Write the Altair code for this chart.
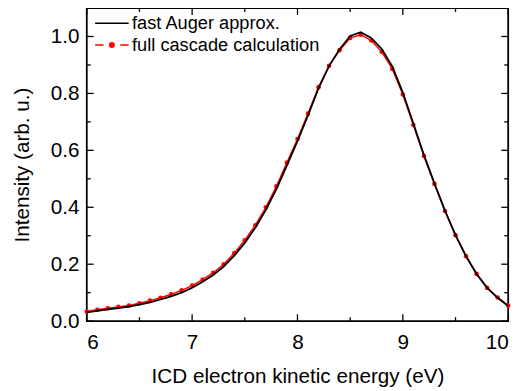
import altair as alt
import pandas as pd

energy = [6.0, 6.1, 6.2, 6.3, 6.4, 6.5, 6.6, 6.7, 6.8, 6.9,
          7.0, 7.1, 7.2, 7.3, 7.4, 7.5, 7.6, 7.7, 7.8, 7.9,
          8.0, 8.1, 8.2, 8.3, 8.4, 8.5, 8.6, 8.7, 8.8, 8.9,
          9.0, 9.1, 9.2, 9.3, 9.4, 9.5, 9.6, 9.7, 9.8, 9.9, 10.0]

fast_auger = [0.031, 0.036, 0.041, 0.046, 0.051, 0.058, 0.066, 0.076, 0.087, 0.100,
              0.117, 0.138, 0.162, 0.192, 0.230, 0.275, 0.328, 0.391, 0.464, 0.547,
              0.632, 0.723, 0.818, 0.897, 0.955, 1.002, 1.015, 0.995, 0.956, 0.895,
              0.803, 0.694, 0.584, 0.484, 0.388, 0.302, 0.228, 0.166, 0.117, 0.082, 0.053]

full_cascade = [0.034, 0.040, 0.045, 0.050, 0.055, 0.063, 0.072, 0.082, 0.094, 0.108,
                0.125, 0.146, 0.170, 0.200, 0.239, 0.284, 0.337, 0.400, 0.474, 0.557,
                0.640, 0.729, 0.822, 0.897, 0.952, 0.995, 1.006, 0.986, 0.946, 0.886,
                0.796, 0.689, 0.580, 0.482, 0.387, 0.302, 0.228, 0.166, 0.117, 0.083, 0.055]

series_names = ["fast Auger approx.", "full cascade calculation"]
series_colors = ["#000000", "#ff0000"]

x_major = [6, 7, 8, 9, 10]
x_minor = [6.5, 7.5, 8.5, 9.5]
y_major = [0.0, 0.2, 0.4, 0.6, 0.8, 1.0]
y_minor = [0.1, 0.3, 0.5, 0.7, 0.9]

W, H = 428, 318
FONT = "Liberation Sans"

df = pd.concat([
    pd.DataFrame({"E": energy, "I": fast_auger, "series": series_names[0]}),
    pd.DataFrame({"E": energy, "I": full_cascade, "series": series_names[1]}),
])
df_red = df[df["series"] == series_names[1]]
df_black = df[df["series"] == series_names[0]]

xscale = alt.Scale(domain=[6, 10], nice=False, zero=False)
yscale = alt.Scale(domain=[0, 1.1], nice=False, zero=False)
cscale = alt.Scale(domain=series_names, range=series_colors)

red_path = ("M-2,0L-1,0M1,0L2,0M0.27,0A0.27,0.27 0 1,1 -0.27,0"
            "A0.27,0.27 0 1,1 0.27,0Z")
black_path = "M-2,0L2,0"

legend = alt.Legend(
    title=None, orient="none", legendX=16, legendY=6, padding=0,
    labelFont=FONT, labelFontSize=18.5, labelColor="black", labelLimit=0,
    labelOffset=11, rowPadding=3, symbolSize=289, symbolStrokeWidth=1.5,
    symbolOpacity=1,
    symbolType={"expr": f"datum.label == '{series_names[1]}' ? '{red_path}' : '{black_path}'"},
    symbolFillColor={"expr": f"datum.label == '{series_names[1]}' ? '#ff0000' : 'transparent'"},
)

x_axis = alt.Axis(
    values=x_major, format="d", ticks=False, domain=False, grid=False,
    labelFont=FONT, labelFontSize=21, labelColor="black", labelPadding=11,
    title="ICD electron kinetic energy (eV)", titleFont=FONT, titleFontSize=21,
    titleFontWeight="normal", titleColor="black", titlePadding=13)
y_axis = alt.Axis(
    values=y_major, format=".1f", ticks=False, domain=False, grid=False,
    labelFont=FONT, labelFontSize=21, labelColor="black", labelPadding=8,
    title="Intensity (arb. u.)", titleFont=FONT, titleFontSize=21,
    titleFontWeight="normal", titleColor="black", titlePadding=18)

red_line = alt.Chart(df_red).mark_line(strokeWidth=1.5).encode(
    x=alt.X("E:Q", scale=xscale, axis=x_axis),
    y=alt.Y("I:Q", scale=yscale, axis=y_axis),
    color=alt.Color("series:N", scale=cscale, legend=legend))
red_pts = alt.Chart(df_red).mark_circle(size=22, opacity=1).encode(
    x=alt.X("E:Q", scale=xscale, axis=x_axis),
    y=alt.Y("I:Q", scale=yscale, axis=y_axis),
    color=alt.Color("series:N", scale=cscale, legend=legend))
black_line = alt.Chart(df_black).mark_line(strokeWidth=1.8).encode(
    x=alt.X("E:Q", scale=xscale, axis=x_axis),
    y=alt.Y("I:Q", scale=yscale, axis=y_axis),
    color=alt.Color("series:N", scale=cscale, legend=legend))

layers = [red_line, red_pts, black_line]

def xticks(vals, length):
    d = pd.DataFrame({"E": vals})
    bot = alt.Chart(d).mark_rule(color="black", strokeWidth=1.3).encode(
        x=alt.X("E:Q", scale=xscale, axis=x_axis), y=alt.value(H), y2=alt.value(H - length))
    top = alt.Chart(d).mark_rule(color="black", strokeWidth=1.3).encode(
        x=alt.X("E:Q", scale=xscale, axis=x_axis), y=alt.value(0), y2=alt.value(length))
    return [bot, top]

def yticks(vals, length):
    d = pd.DataFrame({"I": vals})
    left = alt.Chart(d).mark_rule(color="black", strokeWidth=1.3).encode(
        y=alt.Y("I:Q", scale=yscale, axis=y_axis), x=alt.value(0), x2=alt.value(length))
    right = alt.Chart(d).mark_rule(color="black", strokeWidth=1.3).encode(
        y=alt.Y("I:Q", scale=yscale, axis=y_axis), x=alt.value(W), x2=alt.value(W - length))
    return [left, right]

tick_layers = xticks(x_major, 7) + xticks(x_minor, 4) + yticks(y_major, 7) + yticks(y_minor, 4)

chart = alt.layer(*layers, *tick_layers).properties(
    width=W, height=H,
    background="white",
    autosize=alt.AutoSizeParams(type="none"),
    padding={"left": 80, "top": -3, "right": 12, "bottom": 72},
).configure_view(stroke="black", strokeWidth=1.8)

chart.save("out.html", embed_options={"renderer": "svg", "actions": False})
